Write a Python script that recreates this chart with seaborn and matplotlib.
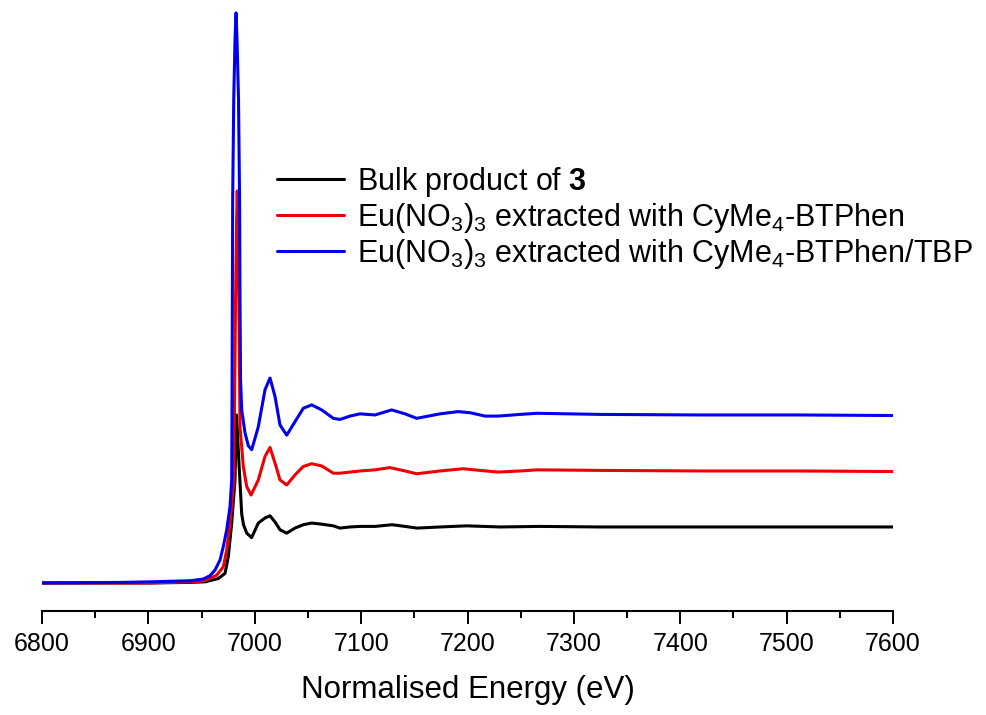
import matplotlib
matplotlib.use('Agg')
import matplotlib.pyplot as plt
import seaborn as sns
import pandas as pd

# energy (eV) and normalised absorbance
bulk_e = [6800, 6901.5, 6939.1, 6953.2, 6965.7, 6972.0, 6975.1, 6978.3, 6981.4, 6982.2,
          6982.8, 6983.8, 6985.2, 6986.1, 6987.7, 6989.4, 6992.4, 6997.0, 7003.3, 7009.6,
          7014.3, 7019.0, 7023.7, 7030.0, 7037.8, 7045.6, 7053.5, 7062.9, 7073.8, 7080.1,
          7089.5, 7098.9, 7113.0, 7129.0, 7141.2, 7152.5, 7174.1, 7199.3, 7230.6, 7268.2,
          7324.6, 7418.6, 7512.6, 7600]
bulk_a = [0, 0, 0.01, 0.02, 0.08, 0.17, 0.47, 1.07, 1.84, 2.55,
          3.00, 2.64, 2.11, 1.80, 1.23, 1.04, 0.89, 0.81, 1.07, 1.16,
          1.20, 1.09, 0.95, 0.89, 0.98, 1.04, 1.07, 1.05, 1.02, 0.98,
          1.00, 1.01, 1.01, 1.04, 1.01, 0.98, 1.00, 1.02, 1.00, 1.01,
          1.00, 1.00, 1.00, 1.00]

btp_e = [6800, 6901.5, 6939.1, 6953.2, 6964.2, 6970.4, 6973.6, 6976.7, 6979.8, 6981.0,
         6981.9, 6982.9, 6983.5, 6984.3, 6985.2, 6986.1, 6989.2, 6992.4, 6996.5, 7003.3,
         7009.6, 7014.3, 7019.0, 7023.7, 7030.0, 7037.8, 7045.6, 7053.5, 7062.9, 7073.8,
         7080.1, 7089.5, 7098.9, 7113.0, 7127.1, 7141.2, 7152.2, 7174.1, 7195.8, 7211.8,
         7228.7, 7249.4, 7265.3, 7324.6, 7418.6, 7512.6, 7600]
btp_a = [0, 0, 0.02, 0.04, 0.14, 0.29, 0.59, 1.07, 1.72, 3.27,
         5.05, 6.48, 7.00, 6.30, 4.70, 2.79, 2.08, 1.72, 1.57, 1.84,
         2.26, 2.42, 2.14, 1.84, 1.75, 1.93, 2.08, 2.13, 2.09, 1.96,
         1.96, 1.98, 2.00, 2.02, 2.06, 2.00, 1.95, 2.00, 2.04, 2.01,
         1.98, 2.00, 2.02, 2.01, 2.00, 2.00, 1.99]

tbp_e = [6800, 6873.3, 6901.5, 6920.3, 6939.1, 6951.4, 6957.9, 6962.6, 6967.3, 6970.4,
         6973.6, 6976.7, 6978.3, 6978.6, 6978.9, 6979.2, 6980.2, 6981.4, 6982.4, 6983.3,
         6984.7, 6985.7, 6986.1, 6986.6, 6987.7, 6990.8, 6993.9, 6997.1, 7003.3, 7009.6,
         7014.3, 7019.0, 7023.7, 7030.0, 7037.8, 7045.6, 7053.5, 7062.9, 7073.8, 7080.1,
         7089.5, 7098.9, 7113.0, 7128.7, 7141.2, 7152.2, 7174.1, 7191.1, 7202.4, 7216.5,
         7228.7, 7249.4, 7265.3, 7324.6, 7418.6, 7512.6, 7600]
tbp_a = [0, 0.01, 0.02, 0.03, 0.04, 0.07, 0.13, 0.23, 0.41, 0.65,
         0.95, 1.36, 1.84, 3.27, 5.05, 6.84, 8.63, 9.70, 10.18, 9.70,
         8.63, 6.84, 5.05, 3.63, 3.09, 2.68, 2.45, 2.38, 2.79, 3.45,
         3.66, 3.33, 2.82, 2.64, 2.88, 3.12, 3.18, 3.09, 2.94, 2.92,
         2.98, 3.02, 3.00, 3.09, 3.02, 2.94, 3.02, 3.06, 3.04, 2.98,
         2.98, 3.01, 3.03, 3.01, 3.00, 3.00, 2.99]

labels = [r'Bulk product of $\mathbf{3}$',
          r'Eu(NO$_3$)$_3$ extracted with CyMe$_4$-BTPhen',
          r'Eu(NO$_3$)$_3$ extracted with CyMe$_4$-BTPhen/TBP']
colors = ['#000000', '#ee0000', '#0000ee']

df = pd.concat([
    pd.DataFrame({'energy': bulk_e, 'mu': bulk_a, 'sample': labels[0]}),
    pd.DataFrame({'energy': btp_e, 'mu': btp_a, 'sample': labels[1]}),
    pd.DataFrame({'energy': tbp_e, 'mu': tbp_a, 'sample': labels[2]}),
])

sns.set_style("white")
plt.rcParams['font.family'] = ['Liberation Sans', 'DejaVu Sans']
plt.rcParams['mathtext.fontset'] = 'custom'
plt.rcParams['mathtext.rm'] = 'Liberation Sans'
plt.rcParams['mathtext.it'] = 'Liberation Sans:italic'
plt.rcParams['mathtext.bf'] = 'Liberation Sans:bold'
plt.rcParams['text.color'] = 'black'
plt.rcParams['axes.labelcolor'] = 'black'
plt.rcParams['xtick.color'] = 'black'

f = plt.figure(figsize=(9.87, 7.15), dpi=100)
ax = f.add_axes([0.0426, 0.1455, 0.8622, 0.8545])

sns.lineplot(data=df, x='energy', y='mu', hue='sample', palette=colors,
             linewidth=2.2, estimator=None, sort=False, ax=ax)

ax.set_xlim(6800, 7600)
ax.set_ylim(-0.5, 10.41)
ax.set_xticks(range(6800, 7601, 100))
ax.set_xticks(range(6850, 7600, 100), minor=True)
ax.set_yticks([])
ax.set_ylabel('')
ax.set_xlabel('Normalised Energy (eV)', fontsize=22.5, labelpad=14)
for s in ['left', 'right', 'top']:
    ax.spines[s].set_visible(False)
ax.spines['bottom'].set_color('black')
ax.spines['bottom'].set_linewidth(1.5)
ax.tick_params(axis='x', which='major', direction='out', length=9, width=1.4,
               color='black', labelcolor='black', labelsize=18, pad=6, bottom=True)
ax.tick_params(axis='x', which='minor', direction='out', length=5, width=1.4,
               color='black', bottom=True)

handles, labs = ax.get_legend_handles_labels()
leg = ax.legend(handles=handles, labels=labs, loc='upper left',
                bbox_to_anchor=(0.276, 0.73), frameon=False, fontsize=22,
                handlelength=2.2, handletextpad=0.42, labelspacing=0.06,
                borderpad=0, borderaxespad=0)
for h in leg.get_lines():
    h.set_linewidth(2.2)

f.savefig('out.png', dpi=100)
